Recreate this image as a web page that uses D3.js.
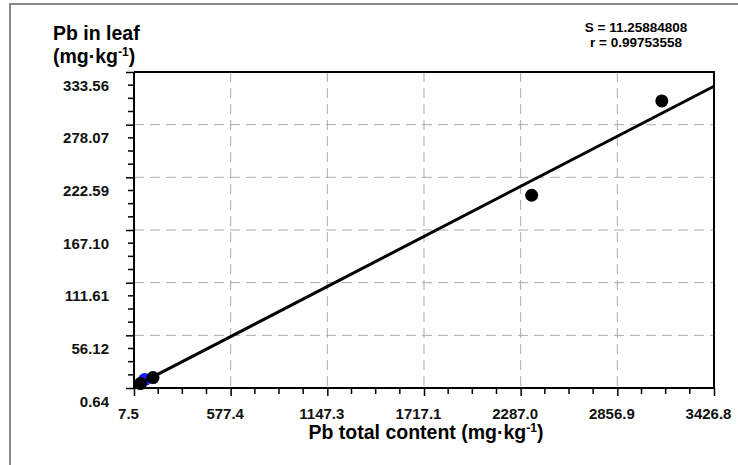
<!DOCTYPE html>
<html>
<head>
<meta charset="utf-8">
<script src="https://cdn.jsdelivr.net/npm/d3@7"></script>
<style>
  body { margin: 0; background: #fff; }
  text { font-family: "Liberation Sans", Arial, sans-serif; font-weight: bold; }
</style>
</head>
<body>
<div id="chart"></div>
<script>
// data
const xTickLabels = ["7.5", "577.4", "1147.3", "1717.1", "2287.0", "2856.9", "3426.8"];
const yTickLabels = ["0.64", "56.12", "111.61", "167.10", "222.59", "278.07", "333.56"];
const totalPb = [45.3, 119.6, 2352, 3119];
const leafPb = [5.3, 11.6, 203.7, 303.1];
const bluePoint = [70, 9.5];
const fitSlope = 0.09258;
const fitIntercept = 1.33;
const statLines = ["S = 11.25884808", "r = 0.99753558"];

showScatter(totalPb, leafPb);

function showScatter(xs, ys) {
    const width = 738;
    const height = 465;
    const margin = { top: 72, right: 24, bottom: 77, left: 134 };
    const innerW = width - margin.left - margin.right;
    const innerH = height - margin.top - margin.bottom;

    const svg = d3.select("#chart").append("svg")
        .attr("width", width)
        .attr("height", height);

    // outer frame (only left and top edges show)
    svg.append("path")
        .attr("d", `M10,${height + 5} V4 H${width + 5}`)
        .attr("fill", "none")
        .attr("stroke", "#888")
        .attr("stroke-width", 2);

    const g = svg.append("g")
        .attr("transform", `translate(${margin.left}, ${margin.top})`);

    const xTicks = xTickLabels.map(Number);
    const yTicks = yTickLabels.map(Number);

    const xScale = d3.scaleLinear()
        .domain([xTicks[0], xTicks[xTicks.length - 1]])
        .range([0, innerW]);

    const yScale = d3.scaleLinear()
        .domain([yTicks[0], yTicks[yTicks.length - 1]])
        .range([innerH, 0]);

    // minor ticks, 3 between each pair of majors
    const minor = ticks => {
        const out = [];
        for (let i = 0; i < ticks.length - 1; i++) {
            const step = (ticks[i + 1] - ticks[i]) / 4;
            for (let k = 1; k < 4; k++) out.push(ticks[i] + step * k);
        }
        return out;
    };

    // dashed grid
    g.append("g").selectAll("line")
        .data(xTicks.slice(1, -1))
        .join("line")
        .attr("x1", d => xScale(d)).attr("x2", d => xScale(d))
        .attr("y1", 0).attr("y2", innerH)
        .attr("stroke", "#aaa")
        .attr("stroke-dasharray", "10,6");

    g.append("g").selectAll("line")
        .data(yTicks.slice(1, -1))
        .join("line")
        .attr("y1", d => yScale(d)).attr("y2", d => yScale(d))
        .attr("x1", 0).attr("x2", innerW)
        .attr("stroke", "#aaa")
        .attr("stroke-dasharray", "10,6");

    // top and right edges of plot box
    g.append("path")
        .attr("d", `M0,0 H${innerW} V${innerH}`)
        .attr("fill", "none")
        .attr("stroke", "#000")
        .attr("stroke-width", 2);

    // x axis
    const xAxis = g.append("g")
        .attr("transform", `translate(0, ${innerH})`)
        .call(d3.axisBottom(xScale).tickValues(xTicks).tickSize(8)
            .tickFormat((d, i) => xTickLabels[i]));
    xAxis.append("g").selectAll("line")
        .data(minor(xTicks))
        .join("line")
        .attr("x1", d => xScale(d)).attr("x2", d => xScale(d))
        .attr("y1", 0).attr("y2", 6)
        .attr("stroke", "#000")
        .attr("stroke-width", 1.5);

    // y axis
    const yAxis = g.append("g")
        .call(d3.axisLeft(yScale).tickValues(yTicks).tickSize(8)
            .tickFormat((d, i) => yTickLabels[i]));
    yAxis.append("g").selectAll("line")
        .data(minor(yTicks))
        .join("line")
        .attr("y1", d => yScale(d)).attr("y2", d => yScale(d))
        .attr("x1", 0).attr("x2", -6)
        .attr("stroke", "#000")
        .attr("stroke-width", 1.5);

    [xAxis, yAxis].forEach(ax => {
        ax.select(".domain").attr("stroke-width", 2).attr("d",
            ax === xAxis ? `M0,0H${innerW}` : `M0,0V${innerH}`);
        ax.selectAll(".tick line").attr("stroke-width", 1.5);
        ax.selectAll(".tick text")
            .attr("fill", "#111")
            .style("font-size", "15px")
            .style("font-weight", "bold");
    });
    xAxis.selectAll(".tick text").attr("y", 20).attr("dx", "-6");
    yAxis.selectAll(".tick text").attr("x", -25).attr("dy", "1.2em");

    // points
    g.append("circle")
        .attr("cx", xScale(bluePoint[0]))
        .attr("cy", yScale(bluePoint[1]))
        .attr("r", 6.5)
        .attr("fill", "#1a1aff");

    g.append("g").selectAll("circle")
        .data(xs.map((x, i) => [x, ys[i]]))
        .join("circle")
        .attr("cx", d => xScale(d[0]))
        .attr("cy", d => yScale(d[1]))
        .attr("r", 6.5)
        .attr("fill", "#000");

    // fitted line
    const xDom = xScale.domain();
    const line = d3.line()
        .x(d => xScale(d))
        .y(d => yScale(fitIntercept + fitSlope * d));
    g.append("path")
        .datum(xDom)
        .attr("fill", "none")
        .attr("stroke", "#000")
        .attr("stroke-width", 3)
        .attr("d", line);

    // titles
    svg.append("text")
        .attr("x", 53).attr("y", 40)
        .style("font-size", "19.5px")
        .text("Pb in leaf");

    const yt = svg.append("text")
        .attr("x", 53).attr("y", 63)
        .style("font-size", "19.5px");
    yt.append("tspan").text("(mg·kg");
    yt.append("tspan").attr("dy", -7).style("font-size", "12px").text("-1");
    yt.append("tspan").attr("dy", 7).text(")");

    const xt = svg.append("text")
        .attr("x", margin.left + innerW / 2 + 2).attr("y", 439)
        .attr("text-anchor", "middle")
        .style("font-size", "19.5px");
    xt.append("tspan").text("Pb total content (mg·kg");
    xt.append("tspan").attr("dy", -7).style("font-size", "12px").text("-1");
    xt.append("tspan").attr("dy", 7).text(")");

    // stats
    svg.append("g").selectAll("text")
        .data(statLines)
        .join("text")
        .attr("x", 636)
        .attr("y", (d, i) => 31.5 + i * 15.5)
        .attr("text-anchor", "middle")
        .style("font-size", "13.5px")
        .text(d => d);
}
</script>
</body>
</html>
